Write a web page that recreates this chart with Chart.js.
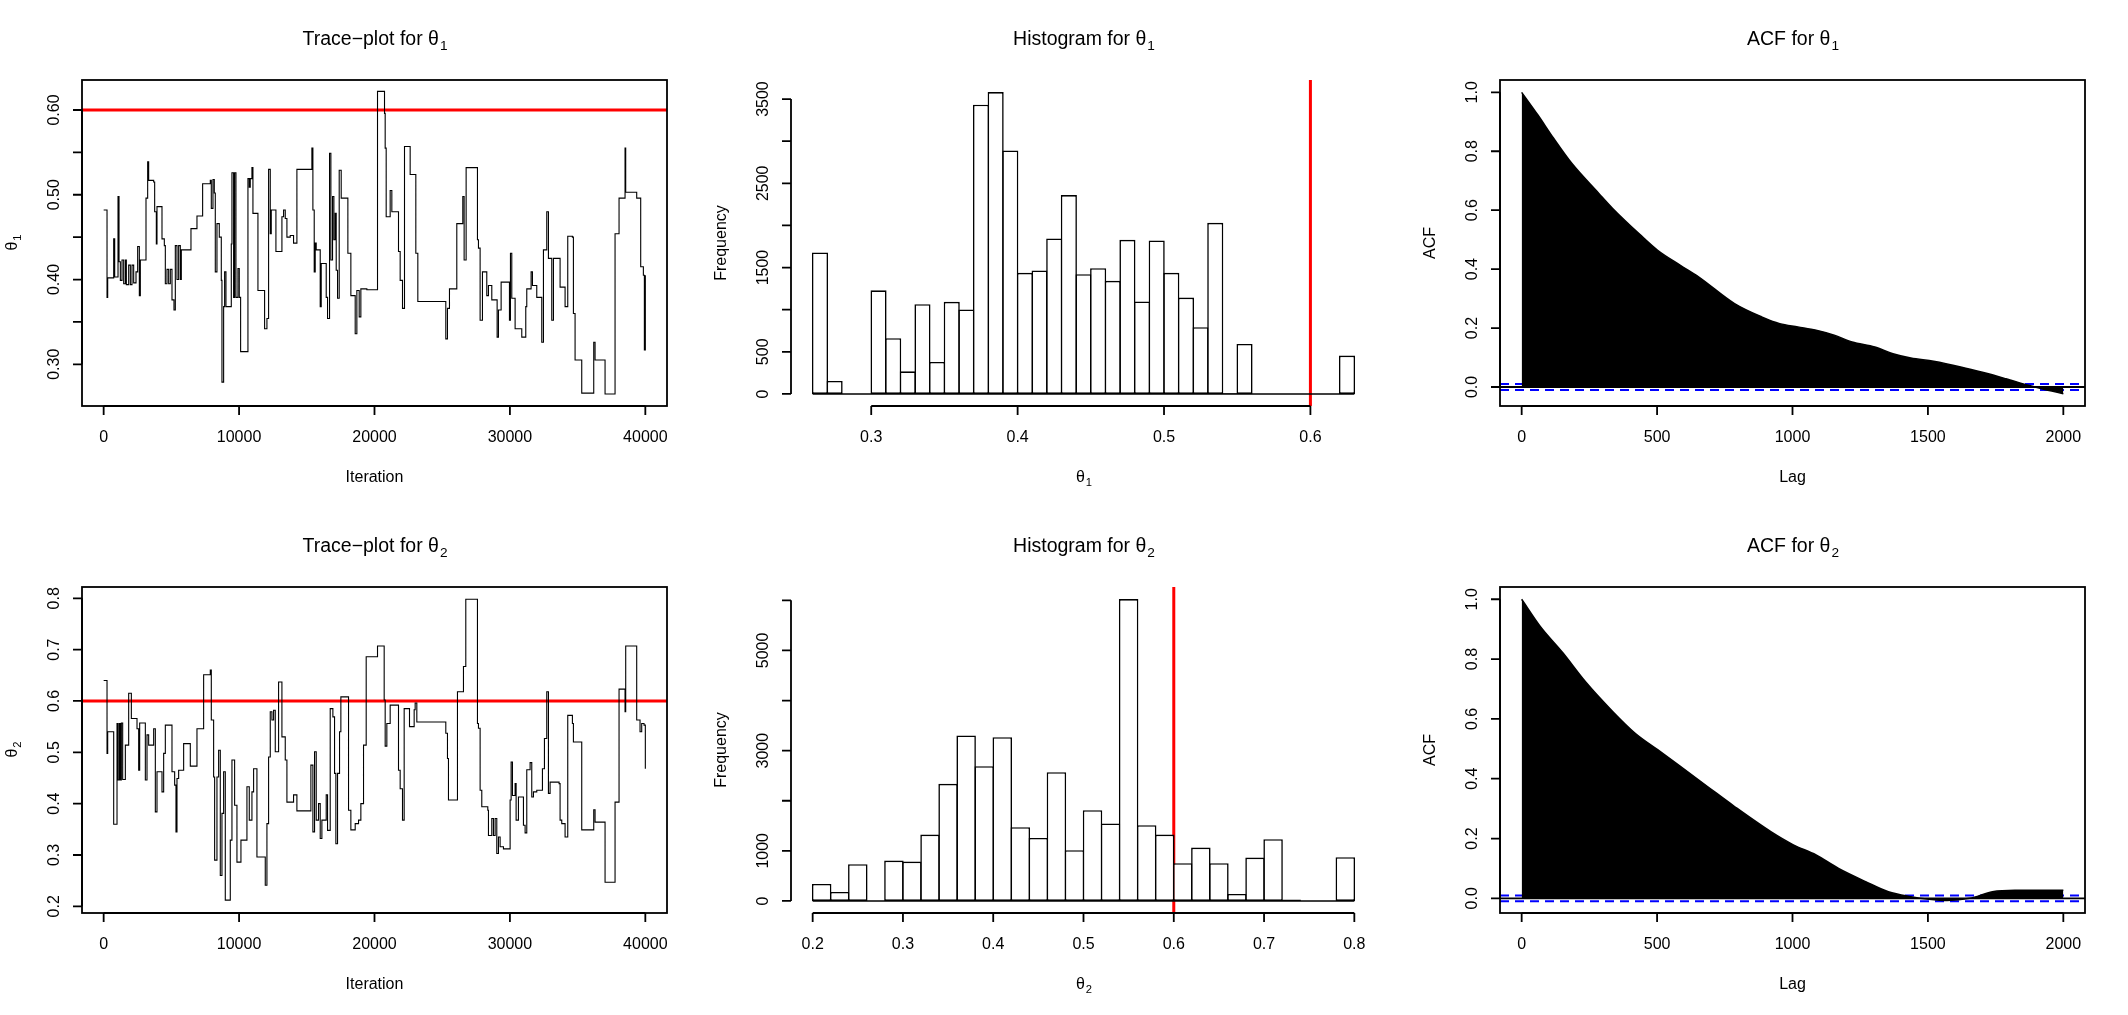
<!DOCTYPE html>
<html>
<head>
<meta charset="utf-8">
<script src="https://cdn.jsdelivr.net/npm/chart.js@4.4.1/dist/chart.umd.min.js"></script>
<style>
  body { margin: 0; background: #fff; width: 2128px; height: 1015px; position: relative; overflow: hidden; }
  canvas { position: absolute; }
</style>
</head>
<body>
<canvas id="trace1" width="710" height="508" style="left:0px;top:0px"></canvas>
<canvas id="hist1" width="710" height="508" style="left:709px;top:0px"></canvas>
<canvas id="acf1" width="710" height="508" style="left:1418px;top:0px"></canvas>
<canvas id="trace2" width="710" height="508" style="left:0px;top:507px"></canvas>
<canvas id="hist2" width="710" height="508" style="left:709px;top:507px"></canvas>
<canvas id="acf2" width="710" height="508" style="left:1418px;top:507px"></canvas>
<script>
// ---- data ----
// trace plots: iteration where the chain moves, and the value it moves to
var trace1Iter = [1,249,298,741,815,1061,1135,1233,1356,1479,1602,1676,1848,1971,2094,2217,2389,2512,2635,2709,
  3127,3250,3324,3693,3767,3890,3939,4308,4480,4554,4677,4800,4923,5046,5194,5292,5415,5538,5661,5735,
  6448,6891,7309,7875,7949,8072,8170,8244,8367,8539,8687,8736,8859,8933,9031,9425,9474,9597,9671,9769,
  9917,10015,10114,10655,10753,10827,10950,11024,11393,11885,12057,12180,12303,12377,12721,13164,13287,13410,13533,13778,
  14024,14270,15377,15451,15549,15623,15697,15992,16066,16435,16533,16681,16779,16902,17001,17099,17173,17271,17394,17542,
  18034,18255,18575,18698,18870,18993,19436,20223,20740,20789,20863,21158,21281,21773,21896,22068,22216,22634,23052,23200,
  25266,25389,25537,26078,26521,26619,26767,27603,27677,27800,27972,28292,28415,28662,29056,29154,29351,29966,30040,30138,
  30384,30876,31171,31245,31565,31663,31983,32352,32475,32721,32844,33090,33213,33705,34074,34271,34615,34689,34812,35304,
  36190,36288,37026,37764,38059,38502,38551,39363,39658,39855,39929,40000];
var trace1Val = [0.482,0.379,0.402,0.448,0.403,0.498,0.421,0.399,0.423,0.395,0.423,0.394,0.417,0.394,0.417,0.396,0.409,0.439,0.381,0.423,
  0.496,0.539,0.517,0.515,0.480,0.442,0.486,0.448,0.440,0.395,0.412,0.395,0.412,0.376,0.364,0.440,0.400,0.440,0.400,0.435,
  0.460,0.475,0.513,0.517,0.484,0.518,0.502,0.409,0.466,0.450,0.399,0.279,0.368,0.409,0.368,0.442,0.526,0.379,0.526,0.379,
  0.413,0.379,0.315,0.519,0.509,0.519,0.532,0.478,0.387,0.342,0.354,0.530,0.454,0.482,0.433,0.474,0.482,0.472,0.450,0.452,
  0.443,0.530,0.555,0.482,0.409,0.443,0.435,0.368,0.419,0.379,0.354,0.549,0.423,0.498,0.447,0.478,0.411,0.378,0.529,0.496,
  0.431,0.381,0.336,0.387,0.356,0.389,0.388,0.622,0.596,0.555,0.474,0.505,0.480,0.433,0.399,0.366,0.557,0.524,0.431,0.374,
  0.330,0.366,0.389,0.466,0.498,0.423,0.532,0.447,0.437,0.352,0.409,0.381,0.393,0.376,0.332,0.364,0.397,0.352,0.431,0.378,
  0.342,0.332,0.368,0.389,0.409,0.393,0.379,0.326,0.435,0.480,0.425,0.352,0.425,0.391,0.368,0.451,0.450,0.360,0.305,0.266,
  0.326,0.305,0.265,0.454,0.496,0.555,0.503,0.496,0.415,0.405,0.317,0.405];

var trace2Iter = [1,249,298,741,987,1061,1159,1233,1307,1405,1602,1848,2045,2463,2586,2660,3078,3201,3324,3693,
  3816,3939,4308,4431,4554,5046,5243,5341,5415,5538,5907,6399,6891,7383,7875,7949,8121,8195,8367,8490,
  8613,8736,8859,8982,9351,9474,9671,9843,10138,10581,10753,10950,11073,11319,11934,12057,12180,12303,12426,12549,
  12672,12918,13164,13410,13533,14024,14270,15303,15451,15574,15697,15869,15992,16115,16435,16533,16730,16927,17050,17148,
  17271,17419,17517,18083,18255,18575,18821,18993,19190,19387,20223,20715,20789,20912,21158,21773,21896,22068,22191,22585,
  22929,23003,23126,25266,25389,25463,26127,26570,26742,27603,27677,27800,27923,28367,28416,28662,28785,28908,29031,29154,
  29277,29523,30015,30089,30187,30384,30458,30630,30999,31122,31245,31491,31614,31737,31983,32401,32549,32721,32844,32967,
  33631,33705,33828,34074,34271,34615,34689,35304,36190,36288,37026,37764,38059,38502,38551,39363,39609,39732,39904,40000];
var trace2Val = [0.640,0.498,0.540,0.360,0.556,0.446,0.556,0.446,0.557,0.447,0.514,0.615,0.566,0.546,0.465,0.557,0.446,0.534,0.514,0.546,
  0.384,0.462,0.423,0.498,0.553,0.462,0.436,0.345,0.449,0.465,0.517,0.473,0.546,0.651,0.660,0.563,0.452,0.290,0.452,0.504,
  0.260,0.381,0.462,0.212,0.329,0.485,0.397,0.286,0.329,0.433,0.368,0.423,0.468,0.296,0.241,0.361,0.491,0.579,0.563,0.582,
  0.501,0.637,0.530,0.485,0.403,0.417,0.386,0.475,0.345,0.501,0.368,0.400,0.332,0.368,0.417,0.348,0.585,0.569,0.459,0.322,
  0.459,0.540,0.608,0.387,0.349,0.361,0.368,0.400,0.514,0.686,0.707,0.602,0.512,0.556,0.592,0.465,0.429,0.368,0.585,0.550,
  0.583,0.596,0.559,0.537,0.488,0.407,0.618,0.667,0.798,0.556,0.547,0.426,0.394,0.387,0.338,0.371,0.338,0.371,0.303,0.335,
  0.316,0.312,0.407,0.481,0.416,0.439,0.368,0.413,0.358,0.343,0.466,0.480,0.413,0.423,0.426,0.468,0.527,0.618,0.420,0.442,
  0.439,0.368,0.361,0.335,0.572,0.556,0.520,0.349,0.388,0.364,0.247,0.403,0.623,0.579,0.707,0.563,0.540,0.556,0.553,0.468];

// histograms: first break, bin width, counts
var hist1Start = 0.26, hist1Width = 0.01;
var hist1Counts = [1680,155,0,0,1230,661,269,1065,380,1093,1002,3432,3583,2890,1437,1465,1845,2360,1421,1493,
  1342,1829,1097,1821,1437,1144,792,2031,8,594,0,0,0,0,0,0,455];
var hist2Start = 0.20, hist2Width = 0.02;
var hist2Counts = [340,180,732,0,806,786,1325,2337,3302,2690,3269,1471,1258,2570,1012,1811,1545,6025,1511,1325,
  752,1065,752,140,866,1232,27,0,0,872];

// autocorrelation
var acf1Lag = [0,60,118,185,285,336,436,502,586,653,786,886,953,1020,1087,1154,1220,1304,1371,1437,1521,1621,1705,1788,1871,1921,2000];
var acf1Val = [1.0,0.923,0.844,0.759,0.657,0.606,0.518,0.464,0.413,0.374,0.283,0.238,0.215,0.204,0.193,0.176,0.153,0.136,0.113,0.0985,0.087,0.068,0.049,0.028,0.006,-0.006,-0.023];
var acf2Lag = [0,68,152,235,336,419,502,586,686,786,920,1003,1087,1170,1270,1354,1437,1504,1571,1654,1738,1821,2000];
var acf2Val = [1.0,0.910,0.821,0.725,0.625,0.552,0.497,0.441,0.374,0.307,0.223,0.179,0.145,0.100,0.056,0.022,0.0056,-0.003,-0.007,0.0,0.022,0.027,0.027];
var acfBand = 0.0098;
var trueTheta = 0.6;

// axis ticks and labels
var traceXTicks = [0,10000,20000,30000,40000];
var traceXLabels = ['0','10000','20000','30000','40000'];
var trace1YTicks = [0.30,0.35,0.40,0.45,0.50,0.55,0.60];
var trace1YLabels = ['0.30','','0.40','','0.50','','0.60'];
var trace2YTicks = [0.2,0.3,0.4,0.5,0.6,0.7,0.8];
var trace2YLabels = ['0.2','0.3','0.4','0.5','0.6','0.7','0.8'];
var hist1XTicks = [0.3,0.4,0.5,0.6];
var hist1XLabels = ['0.3','0.4','0.5','0.6'];
var hist1YTicks = [0,500,1000,1500,2000,2500,3000,3500];
var hist1YLabels = ['0','500','','1500','','2500','','3500'];
var hist2XTicks = [0.2,0.3,0.4,0.5,0.6,0.7,0.8];
var hist2XLabels = ['0.2','0.3','0.4','0.5','0.6','0.7','0.8'];
var hist2YTicks = [0,1000,2000,3000,4000,5000,6000];
var hist2YLabels = ['0','1000','','3000','','5000',''];
var acfXTicks = [0,500,1000,1500,2000];
var acfXLabels = ['0','500','1000','1500','2000'];
var acfYTicks = [0,0.2,0.4,0.6,0.8,1.0];
var acfYLabels = ['0.0','0.2','0.4','0.6','0.8','1.0'];

// ---- drawing ----
var FONT = '"Liberation Sans", Arial, sans-serif';

function drawSub(ctx, main, sub, x, y, size, rotated) {
  ctx.save();
  ctx.translate(x, y);
  if (rotated) ctx.rotate(-Math.PI / 2);
  ctx.textAlign = 'left';
  ctx.textBaseline = 'alphabetic';
  ctx.font = size + 'px ' + FONT;
  var w1 = ctx.measureText(main).width;
  ctx.font = (size * 0.7) + 'px ' + FONT;
  var w2 = sub ? ctx.measureText(sub).width : 0;
  var x0 = -(w1 + w2) / 2;
  ctx.font = size + 'px ' + FONT;
  ctx.fillText(main, x0, 0);
  if (sub) {
    ctx.font = (size * 0.7) + 'px ' + FONT;
    ctx.fillText(sub, x0 + w1 + 1, size * 0.28);
  }
  ctx.restore();
}

// R-like axes: box, ticks outside, rotated y labels
var rAxes = {
  id: 'rAxes',
  afterDraw: function(chart, args, o) {
    var ctx = chart.ctx, a = chart.chartArea;
    var sx = chart.scales.x, sy = chart.scales.y;
    ctx.save();
    ctx.strokeStyle = '#000';
    ctx.lineWidth = 1.8;
    if (o.box) ctx.strokeRect(a.left, a.top, a.right - a.left, a.bottom - a.top);
    var xp = o.xTicks.map(function(v){ return sx.getPixelForValue(v); });
    var yp = o.yTicks.map(function(v){ return sy.getPixelForValue(v); });
    ctx.beginPath();
    ctx.moveTo(xp[0], a.bottom); ctx.lineTo(xp[xp.length - 1], a.bottom);
    xp.forEach(function(p){ ctx.moveTo(p, a.bottom); ctx.lineTo(p, a.bottom + 9); });
    ctx.moveTo(a.left, yp[0]); ctx.lineTo(a.left, yp[yp.length - 1]);
    yp.forEach(function(p){ ctx.moveTo(a.left, p); ctx.lineTo(a.left - 9, p); });
    ctx.stroke();

    ctx.fillStyle = '#000';
    ctx.font = '16px ' + FONT;
    ctx.textAlign = 'center';
    ctx.textBaseline = 'alphabetic';
    o.xLabels.forEach(function(t, i){ if (t) ctx.fillText(t, xp[i], a.bottom + 35.5); });
    o.yLabels.forEach(function(t, i){
      if (!t) return;
      ctx.save();
      ctx.translate(a.left - 23, yp[i]);
      ctx.rotate(-Math.PI / 2);
      ctx.fillText(t, 0, 0);
      ctx.restore();
    });
    var cx = (a.left + a.right) / 2, cy = (a.top + a.bottom) / 2;
    drawSub(ctx, o.title[0], o.title[1], cx, 45, 19.5, false);
    drawSub(ctx, o.xlab[0], o.xlab[1], cx, a.bottom + 76, 16, false);
    drawSub(ctx, o.ylab[0], o.ylab[1], 16.5, cy, 16, true);
    ctx.restore();
  }
};

function baseOptions(xmin, xmax, ymin, ymax, axes) {
  return {
    responsive: false,
    animation: false,
    devicePixelRatio: 1,
    layout: { padding: { left: 82, right: 43, top: 80, bottom: 102 } },
    scales: {
      x: { type: 'linear', display: false, min: xmin, max: xmax, offset: false,
           afterBuildTicks: function(s){ s.ticks = axes.xTicks.map(function(v){ return { value: v }; }); } },
      y: { type: 'linear', display: false, min: ymin, max: ymax }
    },
    plugins: { legend: { display: false }, tooltip: { enabled: false }, rAxes: axes }
  };
}

function xy(xs, ys) {
  return xs.map(function(x, i){ return { x: x, y: ys[i] }; });
}

function traceChart(id, iters, vals, ymin, ymax, yTicks, yLabels, sub) {
  var xmin = -1599, xmax = 41600;
  new Chart(document.getElementById(id), {
    type: 'line',
    data: { datasets: [
      { data: xy(iters, vals), borderColor: '#000', borderWidth: 1.1, pointRadius: 0, stepped: 'before', fill: false },
      { data: [{ x: xmin, y: trueTheta }, { x: xmax, y: trueTheta }], borderColor: '#ff0000', borderWidth: 3, pointRadius: 0 }
    ] },
    options: baseOptions(xmin, xmax, ymin, ymax, {
      box: true, title: ['Trace\u2212plot for \u03b8', sub], xlab: ['Iteration', ''], ylab: ['\u03b8', sub],
      xTicks: traceXTicks, xLabels: traceXLabels, yTicks: yTicks, yLabels: yLabels
    }),
    plugins: [rAxes]
  });
}

function histChart(id, start, width, counts, xmin, xmax, ymin, ymax, xTicks, xLabels, yTicks, yLabels, sub, pct) {
  var bars = counts.map(function(c, i){ return { x: start + width * (i + 0.5), y: c }; });
  var last = start + width * counts.length;
  new Chart(document.getElementById(id), {
    type: 'bar',
    data: { datasets: [
      { type: 'line', data: [{ x: start, y: 0 }, { x: last, y: 0 }], borderColor: '#000', borderWidth: 1.6, pointRadius: 0 },
      { data: bars, backgroundColor: '#fff', borderColor: '#000', borderWidth: 1.6, borderSkipped: false,
        barPercentage: pct, categoryPercentage: 1 },
      { type: 'line', data: [{ x: trueTheta, y: ymin }, { x: trueTheta, y: ymax }], borderColor: '#ff0000', borderWidth: 3, pointRadius: 0 }
    ] },
    options: baseOptions(xmin, xmax, ymin, ymax, {
      box: false, title: ['Histogram for \u03b8', sub], xlab: ['\u03b8', sub], ylab: ['Frequency', ''],
      xTicks: xTicks, xLabels: xLabels, yTicks: yTicks, yLabels: yLabels
    }),
    plugins: [rAxes]
  });
}

function acfChart(id, lags, vals, ymin, ymax, sub) {
  var xmin = -80, xmax = 2080;
  var dash = { borderColor: '#0000ff', borderWidth: 2, borderDash: [9, 6], pointRadius: 0 };
  new Chart(document.getElementById(id), {
    type: 'line',
    data: { datasets: [
      { data: xy(lags, vals), borderColor: '#000', backgroundColor: '#000', borderWidth: 1.5, pointRadius: 0,
        fill: 'origin', cubicInterpolationMode: 'monotone' },
      { data: [{ x: xmin, y: 0 }, { x: xmax, y: 0 }], borderColor: '#000', borderWidth: 1.8, pointRadius: 0 },
      Object.assign({ data: [{ x: xmin, y: acfBand }, { x: xmax, y: acfBand }] }, dash),
      Object.assign({ data: [{ x: xmin, y: -acfBand }, { x: xmax, y: -acfBand }] }, dash)
    ] },
    options: baseOptions(xmin, xmax, ymin, ymax, {
      box: true, title: ['ACF for \u03b8', sub], xlab: ['Lag', ''], ylab: ['ACF', ''],
      xTicks: acfXTicks, xLabels: acfXLabels, yTicks: acfYTicks, yLabels: acfYLabels
    }),
    plugins: [rAxes]
  });
}

traceChart('trace1', trace1Iter, trace1Val, 0.2508, 0.6354, trace1YTicks, trace1YLabels, '1');
histChart('hist1', hist1Start, hist1Width, hist1Counts, 0.2452, 0.6448, -143, 3726,
  hist1XTicks, hist1XLabels, hist1YTicks, hist1YLabels, '1', 1.1);
acfChart('acf1', acf1Lag, acf1Val, -0.0645, 1.0418, '1');
traceChart('trace2', trace2Iter, trace2Val, 0.187, 0.822, trace2YTicks, trace2YLabels, '2');
histChart('hist2', hist2Start, hist2Width, hist2Counts, 0.176, 0.824, -241, 6266,
  hist2XTicks, hist2XLabels, hist2YTicks, hist2YLabels, '2', 1.08);
acfChart('acf2', acf2Lag, acf2Val, -0.049, 1.041, '2');
</script>
</body>
</html>
